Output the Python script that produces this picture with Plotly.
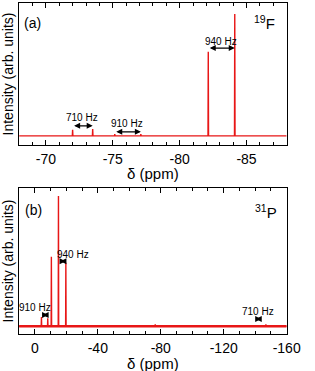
import plotly.graph_objects as go

# ---- data ----
f_peaks_ppm = [-72.0, -73.5, -75.15, -77.1, -82.14, -84.12]
f_peaks_int = [0.05, 0.057, 0.015, 0.015, 0.69, 1.0]
p_peaks_ppm = [-4.2, -8.2, -10.5, -15.0, -19.7, -76.5, -146.8]
p_peaks_int = [0.071, 0.061, 0.534, 1.0, 0.488, 0.015, 0.015]

f_ticks = [-70, -75, -80, -85]
f_ticklabels = ["-70", "-75", "-80", "-85"]
p_ticks = [0, -40, -80, -120, -160]
p_ticklabels = ["0", "-40", "-80", "-120", "-160"]

f_range = [-68, -88]
p_range = [10, -160]

# arrows: (x_start, x_end, y, label, label_x, label_y)
f_arrows = [(-82.14, -84.12, 0.72, "940 Hz", -83.07, 0.775),
            (-72.0, -73.5, 0.082, "710 Hz", -72.7, 0.15),
            (-75.15, -77.1, 0.033, "910 Hz", -76.1, 0.10)]
p_arrows = [(-15.3, -19.5, 0.50, "940 Hz", -24.5, 0.55),
            (-4.0, -8.4, 0.087, "910 Hz", -0.4, 0.145),
            (-139.4, -143.8, 0.056, "710 Hz", -141.8, 0.112)]

RED = "rgb(232,22,22)"
FONT = "Liberation Sans, Arial, sans-serif"


def spectrum(peaks, ints, rng, w):
    xs = [rng[0]]
    ys = [0]
    for p, h in sorted(zip(peaks, ints), key=lambda t: -t[0]):
        xs += [p + w, p, p - w]
        ys += [0, h, 0]
    xs.append(rng[1])
    ys.append(0)
    return xs, ys


fig = go.Figure()
fx, fy = spectrum(f_peaks_ppm, f_peaks_int, f_range, 0.02)
px, py = spectrum(p_peaks_ppm, p_peaks_int, p_range, 0.15)
fig.add_trace(go.Scatter(x=fx, y=fy, mode="lines", line=dict(color=RED, width=1.4),
                         xaxis="x", yaxis="y", showlegend=False))
fig.add_trace(go.Scatter(x=p_range, y=[0, 0], mode="lines", line=dict(color=RED, width=2.6),
                         xaxis="x2", yaxis="y2", showlegend=False))
fig.add_trace(go.Scatter(x=px, y=py, mode="lines", line=dict(color=RED, width=1.4),
                         xaxis="x2", yaxis="y2", showlegend=False))

xd = [20 / 315, 300 / 315]
axcommon = dict(showline=True, linecolor="black", linewidth=1, mirror="allticks",
                ticks="inside", ticklen=5, tickcolor="black", showgrid=False, zeroline=False,
                ticklabelstandoff=1,
                tickfont=dict(size=14, family=FONT, color="black"))
fig.update_layout(
    width=315, height=371, margin=dict(l=0, r=0, t=0, b=0),
    paper_bgcolor="white", plot_bgcolor="white",
    font=dict(family=FONT, color="black"),
    xaxis=dict(domain=xd, range=f_range, anchor="y", tickvals=f_ticks, ticktext=f_ticklabels,
               minor=dict(dtick=1, ticklen=3, ticks="inside", tickcolor="black"), **axcommon),
    yaxis=dict(domain=[1 - 145 / 371, 1 - 3 / 371], range=[-0.075, 1.09], anchor="x",
               showline=True, linecolor="black", mirror=True, ticks="", showticklabels=False,
               showgrid=False, zeroline=False,
               title=dict(text="Intensity (arb. units)", font=dict(size=14), standoff=4)),
    xaxis2=dict(domain=xd, range=p_range, anchor="y2", tickvals=p_ticks, ticktext=p_ticklabels,
                minor=dict(dtick=10, ticklen=3, ticks="inside", tickcolor="black"), **axcommon),
    yaxis2=dict(domain=[1 - 334 / 371, 1 - 188 / 371], range=[-0.059, 1.061], anchor="x2",
                showline=True, linecolor="black", mirror=True, ticks="", showticklabels=False,
                showgrid=False, zeroline=False,
                title=dict(text="Intensity (arb. units)", font=dict(size=14), standoff=4)),
)

ann = []
for axn, arrows in (("", f_arrows), ("2", p_arrows)):
    for x0, x1, y, lab, lx, ly in arrows:
        ann.append(dict(x=x1, y=y, ax=x0, ay=y, xref="x" + axn, yref="y" + axn,
                        axref="x" + axn, ayref="y" + axn, showarrow=True, arrowhead=2,
                        arrowside="end+start", arrowsize=1, arrowwidth=1.2, arrowcolor="black",
                        text=""))
        ann.append(dict(x=lx, y=ly, xref="x" + axn, yref="y" + axn, text=lab, showarrow=False,
                        font=dict(size=10, family=FONT, color="black")))
ann.append(dict(x=-69.0, y=0.926, xref="x", yref="y", text="(a)", showarrow=False,
                font=dict(size=14, family=FONT)))
ann.append(dict(x=-86.36, y=0.926, xref="x", yref="y", text="<sup>19</sup>F", showarrow=False,
                font=dict(size=15, family=FONT)))
ann.append(dict(x=0.6, y=0.89, xref="x2", yref="y2", text="(b)", showarrow=False,
                font=dict(size=14, family=FONT)))
ann.append(dict(x=-146.8, y=0.877, xref="x2", yref="y2", text="<sup>31</sup>P", showarrow=False,
                font=dict(size=15, family=FONT)))
# x-axis titles
ann.append(dict(x=0.5 * (xd[0] + xd[1]), y=1 - 173 / 371, xref="paper", yref="paper",
                text="δ (ppm)", showarrow=False, yanchor="middle",
                font=dict(size=15, family=FONT)))
ann.append(dict(x=0.5 * (xd[0] + xd[1]), y=1 - 363 / 371, xref="paper", yref="paper",
                text="δ (ppm)", showarrow=False, yanchor="middle",
                font=dict(size=15, family=FONT)))
fig.update_layout(annotations=ann)

fig.write_html("out.html", config={"displayModeBar": False},
               post_script="document.body.style.margin='0';document.body.style.overflow='hidden';")
